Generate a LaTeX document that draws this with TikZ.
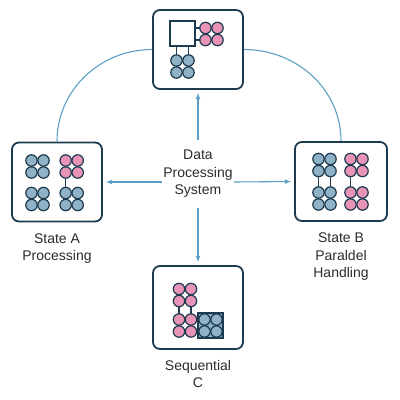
\documentclass[tikz,border=0pt]{standalone}
\usepackage{fontspec}
\setmainfont{Liberation Sans}
\usepackage{tikz}
\usetikzlibrary{arrows,shapes,positioning}

\definecolor{navy}{HTML}{1E3A4F}
\definecolor{dotblue}{HTML}{8FB2C7}
\definecolor{dotpink}{HTML}{E994B6}
\definecolor{linkblue}{HTML}{5C9FC6}
\definecolor{labelgray}{HTML}{2B2B2B}

% 2x2 group of dots: x, y, colour
\newcommand{\dotgroup}[3]{%
	\foreach \dx in {-6,6}
	\foreach \dy in {-6,6}
	\draw[dot, fill=#3] (#1+\dx,#2+\dy) circle (5.7pt);
}

\begin{document}
\begin{tikzpicture}[x=1pt, y=-1pt,
		box/.style   = {draw=navy, line width=1.8pt, rounded corners=7pt, fill=white, minimum width=90pt, minimum height=79pt, inner sep=0pt},
		label/.style = {font=\fontsize{14}{17.5}\selectfont, align=center, text=labelgray, inner sep=0pt},
		dot/.style   = {draw=navy, line width=1.2pt},
		link/.style  = {draw=linkblue, line width=1.1pt},
		>=latex]
		
		\useasboundingbox (0,0) rectangle (400,400);
		
		% the four state boxes
		\node[box] (tb) at (198,49.5) {};
		\node[box] (lb) at (57,182) {};
		\node[box, minimum width=92pt] (rb) at (341,181.5) {};
		\node[box, minimum height=83pt] (bb) at (198,307.5) {};
		
		% labels under the boxes
		\node[label, below=11pt of lb] (lbt) {State A\\Processing};
		\node[label, below=11pt of rb] (rbt) {State B\\Paraldel\\Handling};
		\node[label, below=10pt of bb] (bbt) {Sequential\\C};
		
		% centre text
		\node[label, inner xsep=1pt, inner ysep=10pt] (ctr) at (198,174) {Data\\Processing\\System};
		
		% arrows from the centre
		\draw[link, ->, shorten >=3pt] (ctr.north) -- (tb.south);
		\draw[link, ->, shorten >=3pt] (ctr.south) -- (bb.north);
		\draw[link, ->, shorten >=3pt] ([yshift=-8pt]ctr.west) -- (lb.east);
		\draw[link, ->, shorten >=3pt] ([yshift=-8pt]ctr.east) -- (rb.west);
		
		% arcs to the top box
		\draw[link] (lb.north) to[out=90, in=180] (tb.west);
		\draw[link] (tb.east) to[out=0, in=90] (rb.north);
		
		% top box: square with dots
		\foreach \value in {28,40}
		\draw[dot] (195,\value) -- (205.5,\value);
		\foreach \value in {176.5,188.5}
		\draw[dot] (\value,46) -- (\value,60.5);
		\draw[dot, fill=white] (170,21) rectangle (195,46);
		\dotgroup{211.5}{34}{dotpink}
		\dotgroup{182.5}{66.5}{dotblue}
		
		% left box
		\draw[dot] (65.7,166.5) -- (65.7,199);
		\dotgroup{37.5}{166.5}{dotblue}
		\dotgroup{71.7}{166.5}{dotpink}
		\dotgroup{37.5}{199}{dotblue}
		\dotgroup{71.7}{199}{dotblue}
		
		% right box
		\foreach \value in {318.5,330.5,350.5}
		\draw[dot] (\value,165) -- (\value,198.5);
		\dotgroup{324.5}{165}{dotblue}
		\dotgroup{324.5}{198.5}{dotblue}
		\dotgroup{356.5}{165}{dotpink}
		\dotgroup{356.5}{198.5}{dotpink}
		
		% bottom box
		\foreach \value in {179,191}
		\draw[dot] (\value,295) -- (\value,325.5);
		\dotgroup{185}{295}{dotpink}
		\dotgroup{185}{325.5}{dotpink}
		\draw[dot, fill=dotblue] (198,313) rectangle (223,338);
		\dotgroup{210.5}{325.5}{dotblue}
		
	\end{tikzpicture}
\end{document}
